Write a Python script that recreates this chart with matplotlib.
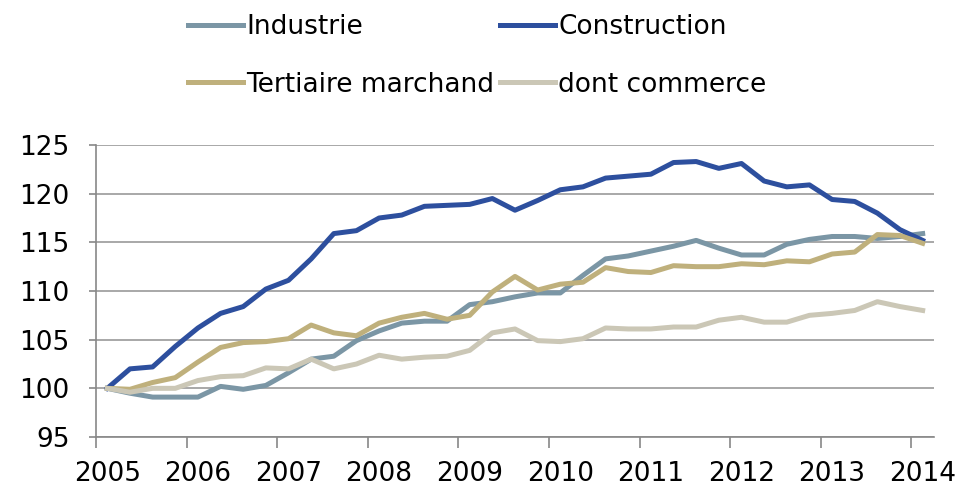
import matplotlib
matplotlib.use("Agg")
import matplotlib.pyplot as plt
import numpy as np

years = [str(y) for y in range(2005, 2015)]

# quarterly index, 2005Q1 = 100 (37 points up to 2014Q1)
industrie = [100.0, 99.5, 99.1, 99.1, 99.1, 100.2, 99.9, 100.3, 101.6, 103.0,
             103.3, 104.9, 105.9, 106.7, 106.9, 106.9, 108.6, 108.9, 109.4, 109.8,
             109.8, 111.6, 113.3, 113.6, 114.1, 114.6, 115.2, 114.4, 113.7, 113.7,
             114.8, 115.3, 115.6, 115.6, 115.4, 115.6, 115.9]
construction = [100.0, 102.0, 102.2, 104.3, 106.2, 107.7, 108.4, 110.2, 111.1, 113.3,
                115.9, 116.2, 117.5, 117.8, 118.7, 118.8, 118.9, 119.5, 118.3, 119.3,
                120.4, 120.7, 121.6, 121.8, 122.0, 123.2, 123.3, 122.6, 123.1, 121.3,
                120.7, 120.9, 119.4, 119.2, 118.0, 116.3, 115.2]
tertiaire = [100.0, 99.9, 100.6, 101.1, 102.7, 104.2, 104.7, 104.8, 105.1, 106.5,
             105.7, 105.4, 106.7, 107.3, 107.7, 107.1, 107.5, 109.9, 111.5, 110.1,
             110.7, 110.9, 112.4, 112.0, 111.9, 112.6, 112.5, 112.5, 112.8, 112.7,
             113.1, 113.0, 113.8, 114.0, 115.8, 115.7, 114.9]
commerce = [100.0, 99.6, 100.0, 100.0, 100.8, 101.2, 101.3, 102.1, 102.0, 103.0,
            102.0, 102.5, 103.4, 103.0, 103.2, 103.3, 103.9, 105.7, 106.1, 104.9,
            104.8, 105.1, 106.2, 106.1, 106.1, 106.3, 106.3, 107.0, 107.3, 106.8,
            106.8, 107.5, 107.7, 108.0, 108.9, 108.4, 108.0]

series = [
    ("Industrie", industrie, "#7b96a5"),
    ("Construction", construction, "#2d4f9e"),
    ("Tertiaire marchand", tertiaire, "#bfb07c"),
    ("dont commerce", commerce, "#cbc7b6"),
]

plt.rcParams['font.family'] = 'DejaVu Sans'

fig = plt.figure(figsize=(9.58, 4.9), dpi=100)
ax = fig.add_axes([96 / 958, 1 - 437 / 490, (934 - 96) / 958, (437 - 145) / 490])

x = np.arange(len(industrie))
lines = []
for name, vals, col in series:
    ln, = ax.plot(x, vals, color=col, lw=3.6, label=name, solid_joinstyle='round')
    lines.append(ln)

ax.set_xlim(-0.5, len(x) - 0.5)
ax.set_ylim(95, 125)
ax.set_yticks(range(95, 126, 5))
ax.grid(axis='y', color='#999999', lw=1.2)
ax.set_axisbelow(True)

# tick marks between years, labels on first quarter of each year
ax.set_xticks(np.arange(-0.5, len(x), 4))
ax.set_xticklabels([])
ax.set_xticks(np.arange(0, len(x), 4), minor=True)
ax.set_xticklabels(years, minor=True)
ax.tick_params(axis='x', which='major', length=8, width=1.2, color='#888888', direction='out')
ax.tick_params(axis='x', which='minor', length=0, pad=17, labelsize=19)
ax.tick_params(axis='y', length=5, width=1.2, color='#888888', pad=14, labelsize=19)

for s in ['top', 'right']:
    ax.spines[s].set_visible(False)
for s in ['left', 'bottom']:
    ax.spines[s].set_color('#888888')
    ax.spines[s].set_linewidth(1.2)

# legend fills column by column: reorder so rows read Industrie/Construction, Tertiaire/commerce
order = [0, 2, 1, 3]
fig.legend(handles=[lines[i] for i in order], ncol=2, loc='upper left',
           bbox_to_anchor=(164 / 958, 1.02), frameon=False, fontsize=19,
           handlelength=2.1, handletextpad=0.12, columnspacing=0.2, labelspacing=1.2)

fig.savefig("out.png", dpi=100)
